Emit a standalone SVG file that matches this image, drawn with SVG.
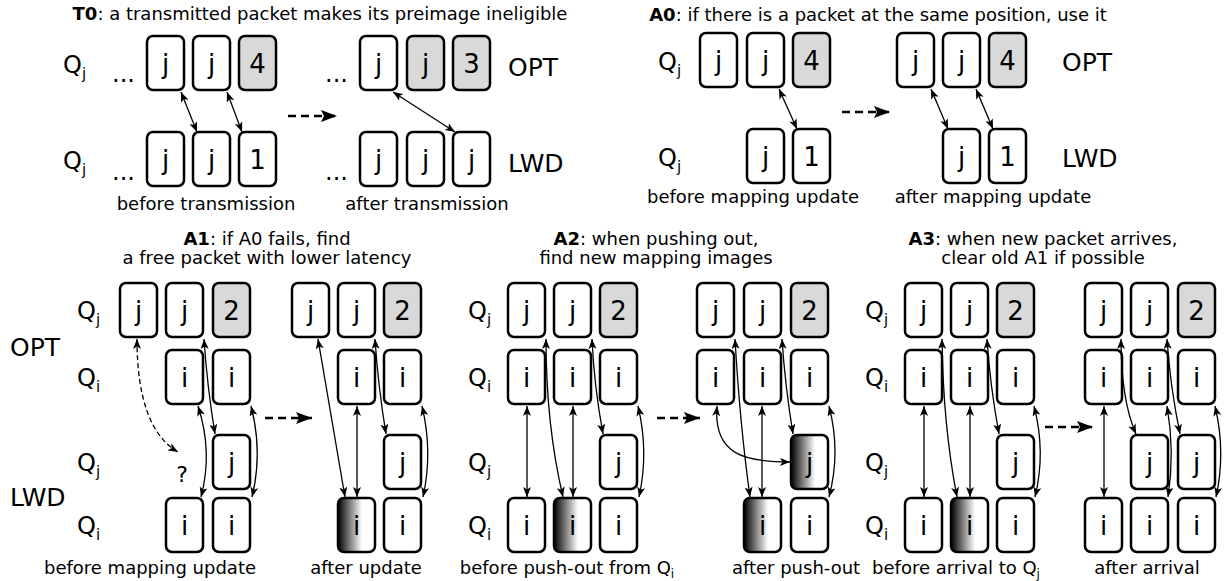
<svg xmlns="http://www.w3.org/2000/svg" width="1226" height="581" viewBox="0 0 1226 581">
<style>
text{font-family:"DejaVu Sans","Liberation Sans",sans-serif;fill:#000}
.b{fill:#fff;stroke:#000;stroke-width:2.5}
.g{fill:#d9d9d9}
.gr{fill:url(#grad)}
.t{font-size:26px;text-anchor:middle}
.q{font-size:24px}
.s{font-size:15px}
.lab{font-size:25px}
.cap{font-size:18px;text-anchor:middle}
.qm{font-size:22px;text-anchor:middle}
.c{fill:none;stroke:#000;stroke-width:1.3;marker-start:url(#ah);marker-end:url(#ah)}
.cd{fill:none;stroke:#000;stroke-width:1.3;stroke-dasharray:5 3;marker-start:url(#ah);marker-end:url(#ah)}
.d{fill:none;stroke:#000;stroke-width:2.5;stroke-dasharray:8 5;marker-end:url(#bh)}
</style>
<defs>
<linearGradient id="grad" x1="0" y1="0" x2="1" y2="0">
<stop offset="0" stop-color="#000"/>
<stop offset="0.65" stop-color="#fff"/>
</linearGradient>
<marker id="ah" viewBox="0 0 10 8" refX="10" refY="4" markerWidth="10" markerHeight="8" markerUnits="userSpaceOnUse" orient="auto-start-reverse">
<path d="M0,0 L10,4 L0,8 L2.5,4 z" fill="#000"/>
</marker>
<marker id="bh" viewBox="0 0 16 12" refX="16" refY="6" markerWidth="16" markerHeight="12" markerUnits="userSpaceOnUse" orient="auto">
<path d="M0,0 L16,6 L0,12 L3,6 z" fill="#000"/>
</marker>
</defs>

<g id="labels">
<text x="320" y="20" class="cap"><tspan font-weight="bold">T0</tspan>: a transmitted packet makes its preimage ineligible</text>
<text x="878" y="21" class="cap"><tspan font-weight="bold">A0</tspan>: if there is a packet at the same position, use it</text>
<text x="267" y="245" class="cap"><tspan font-weight="bold">A1</tspan>: if A0 fails, find</text>
<text x="267" y="264" class="cap">a free packet with lower latency</text>
<text x="656" y="245" class="cap"><tspan font-weight="bold">A2</tspan>: when pushing out,</text>
<text x="656" y="264" class="cap">find new mapping images</text>
<text x="1043" y="245" class="cap"><tspan font-weight="bold">A3</tspan>: when new packet arrives,</text>
<text x="1043" y="264" class="cap">clear old A1 if possible</text>

<text x="206" y="210" class="cap">before transmission</text>
<text x="427" y="210" class="cap">after transmission</text>
<text x="753" y="203" class="cap">before mapping update</text>
<text x="993" y="203" class="cap">after mapping update</text>
<text x="150" y="574" class="cap">before mapping update</text>
<text x="366" y="574" class="cap">after update</text>
<text x="567" y="574" class="cap">before push-out from Q<tspan font-size="12" dy="4">i</tspan></text>
<text x="796" y="574" class="cap">after push-out</text>
<text x="956" y="574" class="cap">before arrival to Q<tspan font-size="12" dy="4">j</tspan></text>
<text x="1147" y="574" class="cap">after arrival</text>

<text x="63" y="73" class="q">Q<tspan class="s" dy="6">j</tspan></text>
<text x="63" y="169" class="q">Q<tspan class="s" dy="6">j</tspan></text>
<text x="112" y="82" class="q">...</text>
<text x="112" y="180" class="q">...</text>
<text x="325" y="82" class="q">...</text>
<text x="325" y="180" class="q">...</text>
<text x="508" y="76" class="lab">OPT</text>
<text x="508" y="172" class="lab">LWD</text>

<text x="658" y="70" class="q">Q<tspan class="s" dy="6">j</tspan></text>
<text x="658" y="166" class="q">Q<tspan class="s" dy="6">j</tspan></text>
<text x="1062" y="71" class="lab">OPT</text>
<text x="1062" y="167" class="lab">LWD</text>

<text x="10" y="356" class="lab">OPT</text>
<text x="10" y="506" class="lab">LWD</text>
<text x="77" y="319" class="q">Q<tspan class="s" dy="6">j</tspan></text>
<text x="77" y="386" class="q">Q<tspan class="s" dy="6">i</tspan></text>
<text x="77" y="471" class="q">Q<tspan class="s" dy="6">j</tspan></text>
<text x="77" y="534" class="q">Q<tspan class="s" dy="6">i</tspan></text>
<text x="182" y="482" class="qm">?</text>

<text x="468" y="319" class="q">Q<tspan class="s" dy="6">j</tspan></text>
<text x="468" y="386" class="q">Q<tspan class="s" dy="6">i</tspan></text>
<text x="468" y="471" class="q">Q<tspan class="s" dy="6">j</tspan></text>
<text x="468" y="534" class="q">Q<tspan class="s" dy="6">i</tspan></text>

<text x="865" y="319" class="q">Q<tspan class="s" dy="6">j</tspan></text>
<text x="865" y="386" class="q">Q<tspan class="s" dy="6">i</tspan></text>
<text x="865" y="471" class="q">Q<tspan class="s" dy="6">j</tspan></text>
<text x="865" y="534" class="q">Q<tspan class="s" dy="6">i</tspan></text>
</g>

<!-- T0 -->
<g id="t0-o1"><rect class="b" x="147" y="36" width="37" height="54" rx="6"/><text class="t" x="165.5" y="73">j</text></g>
<g id="t0-o2"><rect class="b" x="193" y="36" width="37" height="54" rx="6"/><text class="t" x="211.5" y="73">j</text></g>
<g id="t0-o3"><rect class="b g" x="239" y="36" width="37" height="54" rx="6"/><text class="t" x="257.5" y="73">4</text></g>
<g id="t0-l1"><rect class="b" x="147" y="132" width="37" height="54" rx="6"/><text class="t" x="165.5" y="169">j</text></g>
<g id="t0-l2"><rect class="b" x="193" y="132" width="37" height="54" rx="6"/><text class="t" x="211.5" y="169">j</text></g>
<g id="t0-l3"><rect class="b" x="239" y="132" width="37" height="54" rx="6"/><text class="t" x="257.5" y="169">1</text></g>
<g id="t0-o4"><rect class="b" x="360" y="36" width="37" height="54" rx="6"/><text class="t" x="378.5" y="73">j</text></g>
<g id="t0-o5"><rect class="b g" x="407" y="36" width="37" height="54" rx="6"/><text class="t" x="425.5" y="73">j</text></g>
<g id="t0-o6"><rect class="b g" x="453" y="36" width="37" height="54" rx="6"/><text class="t" x="471.5" y="73">3</text></g>
<g id="t0-l4"><rect class="b" x="360" y="132" width="37" height="54" rx="6"/><text class="t" x="378.5" y="169">j</text></g>
<g id="t0-l5"><rect class="b" x="407" y="132" width="37" height="54" rx="6"/><text class="t" x="425.5" y="169">j</text></g>
<g id="t0-l6"><rect class="b" x="453" y="132" width="37" height="54" rx="6"/><text class="t" x="471.5" y="169">j</text></g>

<!-- A0 -->
<g id="a0-o1"><rect class="b" x="700" y="33" width="37" height="54" rx="6"/><text class="t" x="718.5" y="70">j</text></g>
<g id="a0-o2"><rect class="b" x="747" y="33" width="37" height="54" rx="6"/><text class="t" x="765.5" y="70">j</text></g>
<g id="a0-o3"><rect class="b g" x="793" y="33" width="37" height="54" rx="6"/><text class="t" x="811.5" y="70">4</text></g>
<g id="a0-l2"><rect class="b" x="747" y="129" width="37" height="54" rx="6"/><text class="t" x="765.5" y="166">j</text></g>
<g id="a0-l3"><rect class="b" x="793" y="129" width="37" height="54" rx="6"/><text class="t" x="811.5" y="166">1</text></g>
<g id="a0-o4"><rect class="b" x="897" y="33" width="37" height="54" rx="6"/><text class="t" x="915.5" y="70">j</text></g>
<g id="a0-o5"><rect class="b" x="943" y="33" width="37" height="54" rx="6"/><text class="t" x="961.5" y="70">j</text></g>
<g id="a0-o6"><rect class="b g" x="989" y="33" width="37" height="54" rx="6"/><text class="t" x="1007.5" y="70">4</text></g>
<g id="a0-l5"><rect class="b" x="943" y="129" width="37" height="54" rx="6"/><text class="t" x="961.5" y="166">j</text></g>
<g id="a0-l6"><rect class="b" x="989" y="129" width="37" height="54" rx="6"/><text class="t" x="1007.5" y="166">1</text></g>

<!-- A1 before -->
<g id="a1-b-r1c1"><rect class="b" x="120" y="283" width="37" height="54" rx="6"/><text class="t" x="138.5" y="320">j</text></g>
<g id="a1-b-r1c2"><rect class="b" x="166" y="283" width="37" height="54" rx="6"/><text class="t" x="184.5" y="320">j</text></g>
<g id="a1-b-r1c3"><rect class="b g" x="213" y="283" width="37" height="54" rx="6"/><text class="t" x="231.5" y="320">2</text></g>
<g id="a1-b-r2c2"><rect class="b" x="166" y="350" width="37" height="54" rx="6"/><text class="t" x="184.5" y="387">i</text></g>
<g id="a1-b-r2c3"><rect class="b" x="213" y="350" width="37" height="54" rx="6"/><text class="t" x="231.5" y="387">i</text></g>
<g id="a1-b-r3c3"><rect class="b" x="213" y="435" width="37" height="54" rx="6"/><text class="t" x="231.5" y="472">j</text></g>
<g id="a1-b-r4c2"><rect class="b" x="166" y="498" width="37" height="54" rx="6"/><text class="t" x="184.5" y="535">i</text></g>
<g id="a1-b-r4c3"><rect class="b" x="213" y="498" width="37" height="54" rx="6"/><text class="t" x="231.5" y="535">i</text></g>
<!-- A1 after -->
<g id="a1-a-r1c1"><rect class="b" x="292" y="283" width="37" height="54" rx="6"/><text class="t" x="310.5" y="320">j</text></g>
<g id="a1-a-r1c2"><rect class="b" x="338" y="283" width="37" height="54" rx="6"/><text class="t" x="356.5" y="320">j</text></g>
<g id="a1-a-r1c3"><rect class="b g" x="384" y="283" width="37" height="54" rx="6"/><text class="t" x="402.5" y="320">2</text></g>
<g id="a1-a-r2c2"><rect class="b" x="338" y="350" width="37" height="54" rx="6"/><text class="t" x="356.5" y="387">i</text></g>
<g id="a1-a-r2c3"><rect class="b" x="384" y="350" width="37" height="54" rx="6"/><text class="t" x="402.5" y="387">i</text></g>
<g id="a1-a-r3c3"><rect class="b" x="384" y="435" width="37" height="54" rx="6"/><text class="t" x="402.5" y="472">j</text></g>
<g id="a1-a-r4c2"><rect class="b gr" x="338" y="498" width="37" height="54" rx="6"/><text class="t" x="356.5" y="535">i</text></g>
<g id="a1-a-r4c3"><rect class="b" x="384" y="498" width="37" height="54" rx="6"/><text class="t" x="402.5" y="535">i</text></g>

<!-- A2 before -->
<g id="a2-b-r1c1"><rect class="b" x="508" y="283" width="37" height="54" rx="6"/><text class="t" x="526.5" y="320">j</text></g>
<g id="a2-b-r1c2"><rect class="b" x="554" y="283" width="37" height="54" rx="6"/><text class="t" x="572.5" y="320">j</text></g>
<g id="a2-b-r1c3"><rect class="b g" x="600" y="283" width="37" height="54" rx="6"/><text class="t" x="618.5" y="320">2</text></g>
<g id="a2-b-r2c1"><rect class="b" x="508" y="350" width="37" height="54" rx="6"/><text class="t" x="526.5" y="387">i</text></g>
<g id="a2-b-r2c2"><rect class="b" x="554" y="350" width="37" height="54" rx="6"/><text class="t" x="572.5" y="387">i</text></g>
<g id="a2-b-r2c3"><rect class="b" x="600" y="350" width="37" height="54" rx="6"/><text class="t" x="618.5" y="387">i</text></g>
<g id="a2-b-r3c3"><rect class="b" x="600" y="435" width="37" height="54" rx="6"/><text class="t" x="618.5" y="472">j</text></g>
<g id="a2-b-r4c1"><rect class="b" x="508" y="498" width="37" height="54" rx="6"/><text class="t" x="526.5" y="535">i</text></g>
<g id="a2-b-r4c2"><rect class="b gr" x="554" y="498" width="37" height="54" rx="6"/><text class="t" x="572.5" y="535">i</text></g>
<g id="a2-b-r4c3"><rect class="b" x="600" y="498" width="37" height="54" rx="6"/><text class="t" x="618.5" y="535">i</text></g>
<!-- A2 after -->
<g id="a2-a-r1c1"><rect class="b" x="697" y="283" width="37" height="54" rx="6"/><text class="t" x="715.5" y="320">j</text></g>
<g id="a2-a-r1c2"><rect class="b" x="744" y="283" width="37" height="54" rx="6"/><text class="t" x="762.5" y="320">j</text></g>
<g id="a2-a-r1c3"><rect class="b g" x="791" y="283" width="37" height="54" rx="6"/><text class="t" x="809.5" y="320">2</text></g>
<g id="a2-a-r2c1"><rect class="b" x="697" y="350" width="37" height="54" rx="6"/><text class="t" x="715.5" y="387">i</text></g>
<g id="a2-a-r2c2"><rect class="b" x="744" y="350" width="37" height="54" rx="6"/><text class="t" x="762.5" y="387">i</text></g>
<g id="a2-a-r2c3"><rect class="b" x="791" y="350" width="37" height="54" rx="6"/><text class="t" x="809.5" y="387">i</text></g>
<g id="a2-a-r3c3"><rect class="b gr" x="791" y="435" width="37" height="54" rx="6"/><text class="t" x="809.5" y="472">j</text></g>
<g id="a2-a-r4c2"><rect class="b gr" x="744" y="498" width="37" height="54" rx="6"/><text class="t" x="762.5" y="535">i</text></g>
<g id="a2-a-r4c3"><rect class="b" x="791" y="498" width="37" height="54" rx="6"/><text class="t" x="809.5" y="535">i</text></g>

<!-- A3 before -->
<g id="a3-b-r1c1"><rect class="b" x="905" y="283" width="37" height="54" rx="6"/><text class="t" x="923.5" y="320">j</text></g>
<g id="a3-b-r1c2"><rect class="b" x="951" y="283" width="37" height="54" rx="6"/><text class="t" x="969.5" y="320">j</text></g>
<g id="a3-b-r1c3"><rect class="b g" x="997" y="283" width="37" height="54" rx="6"/><text class="t" x="1015.5" y="320">2</text></g>
<g id="a3-b-r2c1"><rect class="b" x="905" y="350" width="37" height="54" rx="6"/><text class="t" x="923.5" y="387">i</text></g>
<g id="a3-b-r2c2"><rect class="b" x="951" y="350" width="37" height="54" rx="6"/><text class="t" x="969.5" y="387">i</text></g>
<g id="a3-b-r2c3"><rect class="b" x="997" y="350" width="37" height="54" rx="6"/><text class="t" x="1015.5" y="387">i</text></g>
<g id="a3-b-r3c3"><rect class="b" x="997" y="435" width="37" height="54" rx="6"/><text class="t" x="1015.5" y="472">j</text></g>
<g id="a3-b-r4c1"><rect class="b" x="905" y="498" width="37" height="54" rx="6"/><text class="t" x="923.5" y="535">i</text></g>
<g id="a3-b-r4c2"><rect class="b gr" x="951" y="498" width="37" height="54" rx="6"/><text class="t" x="969.5" y="535">i</text></g>
<g id="a3-b-r4c3"><rect class="b" x="997" y="498" width="37" height="54" rx="6"/><text class="t" x="1015.5" y="535">i</text></g>
<!-- A3 after -->
<g id="a3-a-r1c1"><rect class="b" x="1085" y="283" width="37" height="54" rx="6"/><text class="t" x="1103.5" y="320">j</text></g>
<g id="a3-a-r1c2"><rect class="b" x="1131" y="283" width="37" height="54" rx="6"/><text class="t" x="1149.5" y="320">j</text></g>
<g id="a3-a-r1c3"><rect class="b g" x="1178" y="283" width="37" height="54" rx="6"/><text class="t" x="1196.5" y="320">2</text></g>
<g id="a3-a-r2c1"><rect class="b" x="1085" y="350" width="37" height="54" rx="6"/><text class="t" x="1103.5" y="387">i</text></g>
<g id="a3-a-r2c2"><rect class="b" x="1131" y="350" width="37" height="54" rx="6"/><text class="t" x="1149.5" y="387">i</text></g>
<g id="a3-a-r2c3"><rect class="b" x="1178" y="350" width="37" height="54" rx="6"/><text class="t" x="1196.5" y="387">i</text></g>
<g id="a3-a-r3c2"><rect class="b" x="1131" y="435" width="37" height="54" rx="6"/><text class="t" x="1149.5" y="472">j</text></g>
<g id="a3-a-r3c3"><rect class="b" x="1178" y="435" width="37" height="54" rx="6"/><text class="t" x="1196.5" y="472">j</text></g>
<g id="a3-a-r4c1"><rect class="b" x="1085" y="498" width="37" height="54" rx="6"/><text class="t" x="1103.5" y="535">i</text></g>
<g id="a3-a-r4c2"><rect class="b" x="1131" y="498" width="37" height="54" rx="6"/><text class="t" x="1149.5" y="535">i</text></g>
<g id="a3-a-r4c3"><rect class="b" x="1178" y="498" width="37" height="54" rx="6"/><text class="t" x="1196.5" y="535">i</text></g>

<g id="connectors">
<!-- T0 -->
<path class="c" d="M181,92 L197,132"/>
<path class="c" d="M227,92 L242,132"/>
<path class="c" d="M393,92 L455,132"/>
<path class="d" d="M288,116 L337,116"/>
<!-- A0 -->
<path class="c" d="M779,89 L797,129"/>
<path class="c" d="M931,89 L948,129"/>
<path class="c" d="M976,89 L993,129"/>
<path class="d" d="M842,112 L890,112"/>
<!-- A1 -->
<path class="cd" d="M137,339 Q137,428 178,452"/>
<path class="c" d="M204,339 Q207,385 215,434"/>
<path class="c" d="M198,406 Q213,452 201,497"/>
<path class="c" d="M251,406 Q263,452 252,497"/>
<path class="d" d="M265,418 L312,418"/>
<path class="c" d="M318,339 L345,497"/>
<path class="c" d="M357,406 L357,497"/>
<path class="c" d="M375,339 Q378,385 386,434"/>
<path class="c" d="M422,406 Q433,452 423,497"/>
<!-- A2 -->
<path class="c" d="M527,406 L527,497"/>
<path class="c" d="M573,406 L573,497"/>
<path class="c" d="M546,339 Q546,425 563,497"/>
<path class="c" d="M592,339 Q594,385 603,434"/>
<path class="c" d="M638,406 Q649,452 639,497"/>
<path class="d" d="M657,418 L700,418"/>
<path class="c" d="M735,339 Q740,425 750,497"/>
<path class="c" d="M762,406 L762,497"/>
<path class="c" d="M782,339 Q785,385 793,434"/>
<path class="c" d="M717,406 C713,455 745,462 790,462"/>
<path class="c" d="M829,406 Q841,452 829,497"/>
<!-- A3 -->
<path class="c" d="M924,406 L924,497"/>
<path class="c" d="M970,406 L970,497"/>
<path class="c" d="M942,339 Q943,425 957,497"/>
<path class="c" d="M987,339 Q990,385 999,434"/>
<path class="c" d="M1034,406 Q1046,452 1035,497"/>
<path class="d" d="M1045,427 L1093,427"/>
<path class="c" d="M1104,406 L1104,497"/>
<path class="c" d="M1121,339 Q1121,400 1136,434"/>
<path class="c" d="M1167,339 Q1170,385 1180,434"/>
<path class="c" d="M1167,406 Q1175,452 1168,497"/>
<path class="c" d="M1215,406 Q1226,452 1216,497"/>
</g>
</svg>
